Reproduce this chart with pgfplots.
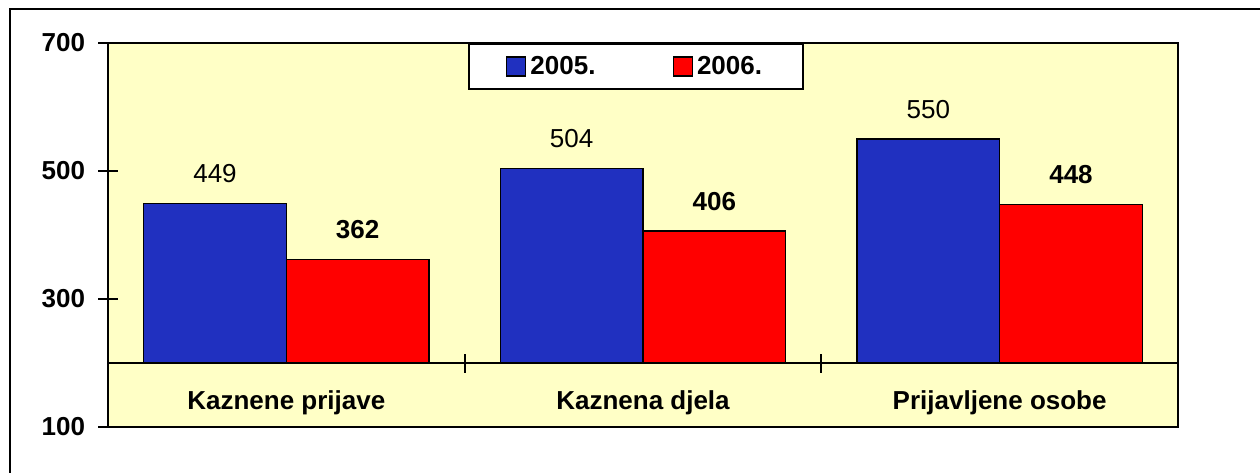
\documentclass[border=0pt]{standalone}
\usepackage{fontspec}
\setmainfont{Liberation Sans}
\usepackage{pgfplots}
\pgfplotsset{compat=1.18}
\definecolor{bgyel}{RGB}{255,255,198}
\definecolor{barblue}{RGB}{32,48,192}
\definecolor{barred}{RGB}{255,0,0}
\newcommand\fs{\fontsize{13pt}{15pt}\selectfont}
\begin{document}
\begin{tikzpicture}
\useasboundingbox (0,0) rectangle (630pt,236pt);
\draw[line width=1.2pt] (5pt,-20pt) rectangle (660pt,231.5pt);
\begin{axis}[
  at={(54pt,22.5pt)}, anchor=south west,
  scale only axis, width=535pt, height=192pt,
  xmin=-0.5, xmax=2.5, ymin=100, ymax=700,
  xtick=\empty,
  ytick={100,300,500,700},
  ytick pos=left,
  tick align=center,
  major tick length=9.5pt,
  tick style={black, line width=1pt},
  axis line style={line width=1pt},
  axis background/.style={fill=bgyel},
  axis on top,
  /pgf/number format/assume math mode=true,
  yticklabel style={font=\fs\bfseries, inner sep=0pt, xshift=-6.5pt},
  ybar, bar width=0.4,
  legend image code/.code={\draw[#1,draw=black,line width=0.75pt] (0pt,-4.75pt) rectangle (9.5pt,4.75pt);},
  legend columns=2,
  legend style={at={(0.3364,1)}, anchor=north west, draw=black, line width=1pt, fill=white,
     font=\fs\bfseries, inner xsep=18.5pt, inner ysep=4pt,
     /tikz/every even column/.append style={column sep=36.5pt}},
  nodes near coords,
  every node near coord/.append style={font=\fs, inner sep=0pt, anchor=south, yshift=10pt, black},
]
\addplot[fill=barblue, draw=black, line width=0.75pt, bar shift=-0.2] coordinates {(0,449) (1,504) (2,550)};
\addlegendentry{2005.}
\addplot[fill=barred, draw=black, line width=0.75pt, bar shift=0.2,
  every node near coord/.append style={font=\fs\bfseries}] coordinates {(0,362) (1,406) (2,448)};
\addlegendentry{2006.}
\fill[bgyel] (axis cs:-0.5,100) rectangle (axis cs:2.5,200);
\draw[line width=1pt] (axis cs:-0.5,200) -- (axis cs:2.5,200);
\draw[line width=1pt] (axis cs:0.5,200) ++(0pt,-4.75pt) -- ++(0pt,9.5pt);
\draw[line width=1pt] (axis cs:1.5,200) ++(0pt,-4.75pt) -- ++(0pt,9.5pt);
\draw[line width=1pt] (axis cs:-0.5,300) -- ++(4.75pt,0pt);
\draw[line width=1pt] (axis cs:-0.5,500) -- ++(4.75pt,0pt);
\node[font=\fs\bfseries, anchor=base] at (axis cs:0,127) {Kaznene prijave};
\node[font=\fs\bfseries, anchor=base] at (axis cs:1,127) {Kaznena djela};
\node[font=\fs\bfseries, anchor=base] at (axis cs:2,127) {Prijavljene osobe};
\end{axis}
\end{tikzpicture}
\end{document}
